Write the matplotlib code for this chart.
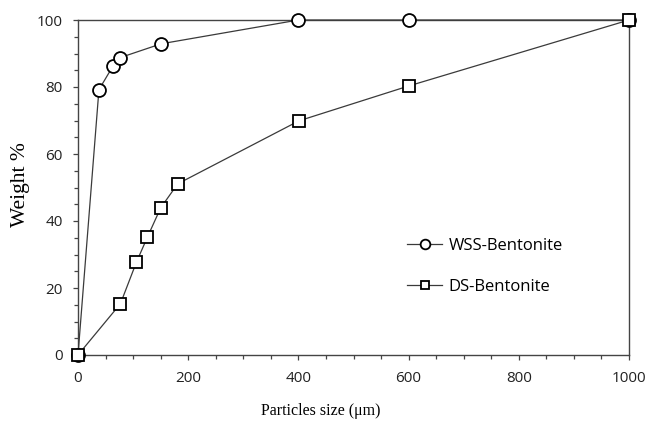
import matplotlib
matplotlib.use('Agg')
from matplotlib import pyplot as plt
from matplotlib.ticker import MultipleLocator

# particle size (um) vs cumulative weight %
wss_size = [0, 38, 64, 77, 151, 400, 600, 1000]
wss_weight = [0, 79.2, 86.4, 88.8, 92.9, 100, 100, 100]

ds_size = [0, 77, 106, 126, 150, 181, 401, 600, 1000]
ds_weight = [0, 15.3, 27.7, 35.2, 43.9, 51.1, 69.9, 80.3, 100]

xticks = [0, 200, 400, 600, 800, 1000]
yticks = [0, 20, 40, 60, 80, 100]

fig = plt.figure(figsize=(6.52, 4.22), dpi=100)
ax = fig.add_axes([78/652, 67/422, 551/652, 335/422])

line_c = '#3a3a3a'
ax.plot(wss_size, wss_weight, color=line_c, lw=0.9, marker='o', ms=9.3,
        mfc='white', mec='black', mew=1.3, clip_on=False, zorder=3,
        label='WSS-Bentonite')
ax.plot(ds_size, ds_weight, color=line_c, lw=0.9, marker='s', ms=8.3,
        mfc='white', mec='black', mew=1.3, clip_on=False, zorder=3,
        label='DS-Bentonite')

ax.set_xlim(0, 1000)
ax.set_ylim(0, 100)
ax.set_xticks(xticks)
ax.set_yticks(yticks)
ax.xaxis.set_minor_locator(MultipleLocator(50))
ax.yaxis.set_minor_locator(MultipleLocator(5))

for s in ax.spines.values():
    s.set_color('#444444')
    s.set_linewidth(1.0)

ax.tick_params(which='both', direction='out', color='#444444', width=0.9,
               top=False, right=False)
ax.tick_params(which='major', length=3.8)
ax.tick_params(which='minor', length=3.0)
ax.tick_params(axis='x', pad=7.5)
ax.tick_params(axis='y', pad=7)
for lab in ax.get_xticklabels() + ax.get_yticklabels():
    lab.set_fontfamily('Open Sans')
    lab.set_fontsize(11)
    lab.set_color('#222222')

ax.set_xlabel('Particles size (μm)', family='Liberation Serif', fontsize=11.5)
ax.xaxis.set_label_coords((321-78)/551, -(403-355)/335)
ax.set_ylabel('Weight %', family='Liberation Serif', fontsize=15.5)
ax.yaxis.set_label_coords(-(78-30)/551, (355-185)/335)

leg = ax.legend(loc='center left', bbox_to_anchor=((407-78)/551, (355-266.5)/335),
                frameon=False, borderpad=0, borderaxespad=0, handlelength=2.1,
                handletextpad=0.4, labelspacing=1.5, markerscale=0.75,
                prop={'family': 'Open Sans', 'size': 12})

fig.savefig('out.png', dpi=100)
